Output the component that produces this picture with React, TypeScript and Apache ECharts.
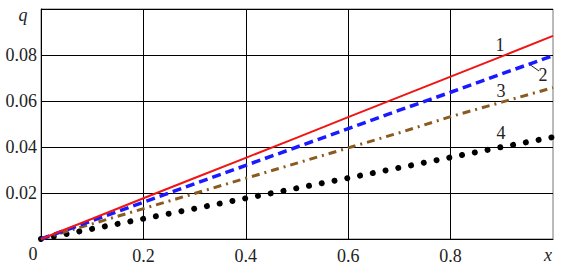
import React, { useEffect, useRef } from "react";
import * as echarts from "echarts";

const xs = [0, 0.1, 0.2, 0.3, 0.4, 0.5, 0.6, 0.7, 0.8, 0.9, 1.0];
const curve1 = [0, 0.0088, 0.0177, 0.0265, 0.0353, 0.0441, 0.053, 0.0618, 0.0706, 0.0794, 0.0883];
const curve2 = [0, 0.008, 0.016, 0.024, 0.032, 0.04, 0.048, 0.056, 0.0638, 0.0718, 0.0797];
const curve3 = [0, 0.0066, 0.0132, 0.0198, 0.0264, 0.033, 0.0396, 0.0462, 0.0532, 0.0595, 0.0658];
const curve4 = [0, 0.0044, 0.0088, 0.0132, 0.0177, 0.0221, 0.0265, 0.031, 0.0355, 0.04, 0.0443];
const curveLabels = ["1", "2", "3", "4"];
const xTicks = [0, 0.2, 0.4, 0.6, 0.8, 1.0];
const yTicks = [0, 0.02, 0.04, 0.06, 0.08, 0.1];

const FONT = "serif";

export default function App() {
  const ref = useRef<HTMLDivElement>(null);
  useEffect(() => {
    const chart = echarts.init(ref.current!, null, { renderer: "svg" });
    const pairs = (ys: number[]) => xs.map((x, i) => [x, ys[i]]);
    const txt = (text: string, x: number, y: number, italic = false) => ({
      type: "text",
      x,
      y,
      style: {
        text,
        fill: "#222",
        fontFamily: FONT,
        fontSize: 18,
        fontStyle: italic ? "italic" : "normal",
        align: "center",
        verticalAlign: "middle",
      },
    });
    chart.setOption({
      animation: false,
      textStyle: { fontFamily: FONT },
      grid: {
        left: 41,
        top: 9,
        width: 512,
        height: 230,
        show: true,
        borderColor: "#777",
        borderWidth: 1,
        backgroundColor: "transparent",
      },
      xAxis: {
        type: "value",
        min: xTicks[0],
        max: xTicks[xTicks.length - 1],
        interval: 0.2,
        axisLine: { show: true, lineStyle: { color: "#000", width: 1 } },
        axisTick: { show: false },
        splitLine: { show: true, showMaxLine: false, lineStyle: { color: "#000", width: 1 } },
        axisLabel: {
          margin: 8,
          color: "#222",
          fontFamily: FONT,
          fontSize: 18,
          formatter: (v: number) => (v === 0 || v >= 1 ? "" : v.toFixed(1)),
        },
      },
      yAxis: {
        type: "value",
        min: yTicks[0],
        max: yTicks[yTicks.length - 1],
        interval: 0.02,
        axisLine: { show: true, lineStyle: { color: "#000", width: 1 } },
        axisTick: { show: false },
        splitLine: { show: true, lineStyle: { color: "#000", width: 1 } },
        axisLabel: {
          margin: 4,
          color: "#222",
          fontFamily: FONT,
          fontSize: 18,
          formatter: (v: number) => (v === 0 || v >= 0.099 ? "" : v.toFixed(2)),
        },
      },
      series: [
        {
          type: "line",
          data: pairs(curve1),
          showSymbol: false,
          lineStyle: { color: "#f01414", width: 2 },
          z: 5,
        },
        {
          type: "line",
          data: pairs(curve2),
          showSymbol: false,
          lineStyle: { color: "#1a1aff", width: 3.5, type: [9, 5] },
          z: 4,
        },
        {
          type: "line",
          data: pairs(curve3),
          showSymbol: false,
          lineStyle: { color: "#8b5a1e", width: 3, type: [8, 5, 2, 5] },
          z: 3,
        },
        {
          type: "line",
          data: pairs(curve4),
          showSymbol: false,
          lineStyle: { color: "#000", width: 6, type: [0.01, 13], cap: "round" },
          z: 2,
        },
      ],
      graphic: [
        txt("q", 23, 15, true),
        txt("x", 548, 255, true),
        txt("0", 33, 254),
        txt(curveLabels[0], 500, 45),
        txt(curveLabels[1], 543, 75),
        txt(curveLabels[2], 501, 91),
        txt(curveLabels[3], 501, 133),
        {
          type: "line",
          shape: { x1: 529, y1: 64, x2: 539, y2: 71 },
          style: { stroke: "#222", lineWidth: 1 },
        },
      ],
    });
    return () => chart.dispose();
  }, []);
  return (
    <div
      ref={ref}
      style={{ position: "fixed", left: 0, top: 0, width: 567, height: 267, background: "#fff" }}
    />
  );
}
